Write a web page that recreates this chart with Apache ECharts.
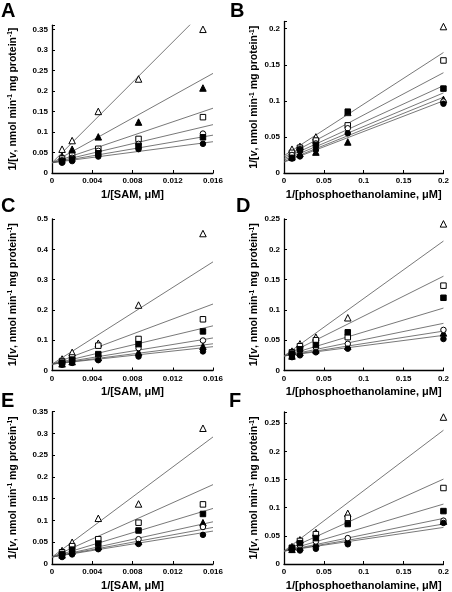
<!DOCTYPE html>
<html>
<head>
<meta charset="utf-8">
<script src="https://cdn.jsdelivr.net/npm/echarts@6/dist/echarts.min.js"></script>
<style>
html,body{margin:0;padding:0;background:#fff;}
#chart{width:452px;height:592px;}
</style>
</head>
<body>
<div id="chart"></div>
<script>
// x values (reciprocal concentrations)
const xSAM = [0.001, 0.002, 0.0046, 0.0086, 0.015];
const xPE = [0.01, 0.02, 0.04, 0.08, 0.2];

// series order in every panel: open triangle, filled triangle, open square, open circle, filled square, filled circle
const markers = ['openTriangle', 'filledTriangle', 'openSquare', 'openCircle', 'filledSquare', 'filledCircle'];

// Panel A
const yA = [
  [0.058, 0.079, 0.150, 0.229, 0.350],
  [0.041, 0.058, 0.088, 0.124, 0.207],
  [0.035, 0.042, 0.059, 0.083, 0.136],
  [0.031, 0.037, 0.054, 0.071, 0.096],
  [0.029, 0.034, 0.048, 0.066, 0.087],
  [0.025, 0.029, 0.040, 0.058, 0.071]
];
const slopeA = [24.5, 13.6, 8.3, 5.8, 4.2, 3.2];
const interceptA = [0.025, 0.025, 0.025, 0.025, 0.025, 0.025];

// Panel B
const yB = [
  [0.033, 0.037, 0.050, 0.084, 0.203],
  [0.023, 0.027, 0.029, 0.043, 0.102],
  [0.028, 0.035, 0.045, 0.066, 0.156],
  [0.025, 0.033, 0.041, 0.062, 0.099],
  [0.021, 0.032, 0.039, 0.085, 0.117],
  [0.020, 0.023, 0.032, 0.055, 0.096]
];
const slopeB = [0.715, 0.445, 0.585, 0.465, 0.505, 0.425];
const interceptB = [0.024, 0.016, 0.022, 0.018, 0.020, 0.015];

// Panel C
const yC = [
  [0.038, 0.060, 0.090, 0.216, 0.452],
  [0.022, 0.029, 0.043, 0.060, 0.080],
  [0.031, 0.043, 0.082, 0.104, 0.169],
  [0.024, 0.032, 0.047, 0.074, 0.099],
  [0.026, 0.036, 0.054, 0.087, 0.129],
  [0.019, 0.025, 0.034, 0.046, 0.063]
];
const slopeC = [21.1, 4.2, 12.4, 5.4, 7.9, 3.6];
const interceptC = [0.021, 0.021, 0.021, 0.021, 0.021, 0.021];

// Panel D
const yD = [
  [0.032, 0.044, 0.055, 0.087, 0.242],
  [0.024, 0.030, 0.034, 0.040, 0.062],
  [0.030, 0.040, 0.050, 0.055, 0.140],
  [0.026, 0.033, 0.038, 0.044, 0.067],
  [0.028, 0.035, 0.042, 0.063, 0.120],
  [0.022, 0.025, 0.030, 0.036, 0.052]
];
const slopeD = [0.948, 0.205, 0.658, 0.269, 0.395, 0.17];
const interceptD = [0.024, 0.024, 0.024, 0.024, 0.024, 0.024];

// Panel E
const yE = [
  [0.031, 0.050, 0.105, 0.138, 0.312],
  [0.021, 0.030, 0.040, 0.052, 0.095],
  [0.027, 0.041, 0.057, 0.095, 0.137],
  [0.020, 0.028, 0.038, 0.057, 0.085],
  [0.023, 0.033, 0.047, 0.077, 0.115],
  [0.016, 0.022, 0.034, 0.046, 0.067]
];
const slopeE = [17.25, 5.06, 10.4, 4.25, 6.98, 3.73];
const interceptE = [0.016, 0.016, 0.016, 0.016, 0.016, 0.016];

// Panel F
const yF = [
  [0.031, 0.043, 0.056, 0.090, 0.261],
  [0.026, 0.030, 0.036, 0.043, 0.076],
  [0.029, 0.041, 0.053, 0.082, 0.135],
  [0.027, 0.033, 0.040, 0.046, 0.077],
  [0.028, 0.037, 0.046, 0.071, 0.094],
  [0.025, 0.024, 0.027, 0.035, 0.073]
];
const slopeF = [1.073, 0.24, 0.639, 0.29, 0.417, 0.21];
const interceptF = [0.023, 0.023, 0.023, 0.023, 0.023, 0.023];

// axis ranges
const xTitleSAM = '1/[SAM, \u03bcM]';
const xTitlePE = '1/[phosphoethanolamine, \u03bcM]';
const yTitle = '1/[{i|v}, nmol min{sup|-1} mg protein{sup|-1}]';

const FONT = '"Liberation Sans", Arial, Helvetica, sans-serif';

const panels = [
  {letter: 'A', x: xSAM, y: yA, slope: slopeA, icpt: interceptA, xMax: 0.016, xInt: 0.004, yMax: 0.36, yInt: 0.05, xName: xTitleSAM,
   grid: {left: 52, top: 25.2, width: 161, height: 147.8}, lpos: [1, 1], nameGap: 33},
  {letter: 'B', x: xPE, y: yB, slope: slopeB, icpt: interceptB, xMax: 0.2, xInt: 0.05, yMax: 0.21, yInt: 0.05, xName: xTitlePE,
   grid: {left: 284, top: 21.5, width: 161, height: 151.5}, lpos: [230, 1], nameGap: 23},
  {letter: 'C', x: xSAM, y: yC, slope: slopeC, icpt: interceptC, xMax: 0.016, xInt: 0.004, yMax: 0.5, yInt: 0.1, xName: xTitleSAM,
   grid: {left: 52, top: 219, width: 161, height: 151.5}, lpos: [1, 196], nameGap: 33},
  {letter: 'D', x: xPE, y: yD, slope: slopeD, icpt: interceptD, xMax: 0.2, xInt: 0.05, yMax: 0.25, yInt: 0.05, xName: xTitlePE,
   grid: {left: 284, top: 219, width: 161, height: 151.5}, lpos: [236, 196], nameGap: 23},
  {letter: 'E', x: xSAM, y: yE, slope: slopeE, icpt: interceptE, xMax: 0.016, xInt: 0.004, yMax: 0.35, yInt: 0.05, xName: xTitleSAM,
   grid: {left: 52, top: 411.7, width: 161, height: 152.6}, lpos: [1, 391], nameGap: 33},
  {letter: 'F', x: xPE, y: yF, slope: slopeF, icpt: interceptF, xMax: 0.2, xInt: 0.05, yMax: 0.27, yInt: 0.05, xName: xTitlePE,
   grid: {left: 284, top: 412, width: 161, height: 152.3}, lpos: [229, 391], nameGap: 23}
];

const markerStyle = {
  openTriangle:   {symbol: 'triangle', size: 6.5, fill: '#fff'},
  filledTriangle: {symbol: 'triangle', size: 6.5, fill: '#000'},
  openSquare:     {symbol: 'rect', size: 5.5, fill: '#fff'},
  openCircle:     {symbol: 'circle', size: 5.5, fill: '#fff'},
  filledSquare:   {symbol: 'rect', size: 5.5, fill: '#000'},
  filledCircle:   {symbol: 'circle', size: 5.5, fill: '#000'}
};

function tickFmt(interval) {
  return function (v) {
    const r = v / interval;
    if (Math.abs(r - Math.round(r)) > 1e-6) return '';
    return String(parseFloat(v.toFixed(4)));
  };
}

const grids = [], xAxes = [], yAxes = [], series = [], graphics = [];

panels.forEach(function (p, i) {
  grids.push(Object.assign({containLabel: false}, p.grid));
  const axisCommon = {
    axisLine: {show: true, onZero: false, lineStyle: {color: '#000', width: 1.3}},
    axisTick: {show: true, inside: true, length: 3, lineStyle: {color: '#000', width: 1}},
    splitLine: {show: false},
    axisLabel: {color: '#000', fontFamily: FONT, fontWeight: 'bold', fontSize: 8, margin: 4},
    nameTextStyle: {color: '#000', fontFamily: FONT, fontWeight: 'bold'}
  };
  xAxes.push(Object.assign({}, axisCommon, {
    type: 'value', gridIndex: i, min: 0, max: p.xMax, interval: p.xInt,
    name: p.xName, nameLocation: 'middle', nameGap: 16,
    nameTextStyle: {color: '#000', fontFamily: FONT, fontWeight: 'bold', fontSize: 11, verticalAlign: 'top'},
    axisLabel: Object.assign({}, axisCommon.axisLabel, {formatter: tickFmt(p.xInt)})
  }));
  yAxes.push(Object.assign({}, axisCommon, {
    type: 'value', gridIndex: i, min: 0, max: p.yMax, interval: p.yInt,
    name: yTitle, nameLocation: 'middle', nameGap: p.nameGap, nameRotate: 90,
    nameTextStyle: {
      color: '#000', fontFamily: FONT, fontWeight: 'bold', fontSize: 10.5, lineHeight: 12,
      rich: {
        i: {fontFamily: FONT, fontWeight: 'bold', fontStyle: 'italic', fontSize: 10.5, lineHeight: 12, color: '#000'},
        sup: {fontFamily: FONT, fontWeight: 'bold', fontSize: 6.5, lineHeight: 12, verticalAlign: 'top', color: '#000'}
      }
    },
    axisLabel: Object.assign({}, axisCommon.axisLabel, {formatter: tickFmt(p.yInt)})
  }));

  // fitted lines
  markers.forEach(function (m, k) {
    const b = p.icpt[k], s = p.slope[k];
    series.push({
      type: 'line', xAxisIndex: i, yAxisIndex: i, silent: true, symbol: 'none', clip: true, z: 1,
      lineStyle: {color: '#555', width: 0.8},
      data: [[0, b], [p.xMax, b + s * p.xMax]]
    });
  });
  // data points
  markers.forEach(function (m, k) {
    const st = markerStyle[m];
    series.push({
      type: 'scatter', xAxisIndex: i, yAxisIndex: i, silent: true, z: 3 + k,
      symbol: st.symbol, symbolSize: st.size,
      itemStyle: {color: st.fill, borderColor: '#000', borderWidth: 1, opacity: 1},
      data: p.x.map(function (xv, j) { return [xv, p.y[k][j]]; })
    });
  });

  graphics.push({
    type: 'text', left: p.lpos[0], top: p.lpos[1],
    style: {text: p.letter, font: 'bold 20px ' + FONT, fill: '#000'}
  });
});

const chart = echarts.init(document.getElementById('chart'), null, {renderer: 'canvas'});
chart.setOption({
  animation: false,
  backgroundColor: '#fff',
  grid: grids,
  xAxis: xAxes,
  yAxis: yAxes,
  series: series,
  graphic: graphics
});
</script>
</body>
</html>
